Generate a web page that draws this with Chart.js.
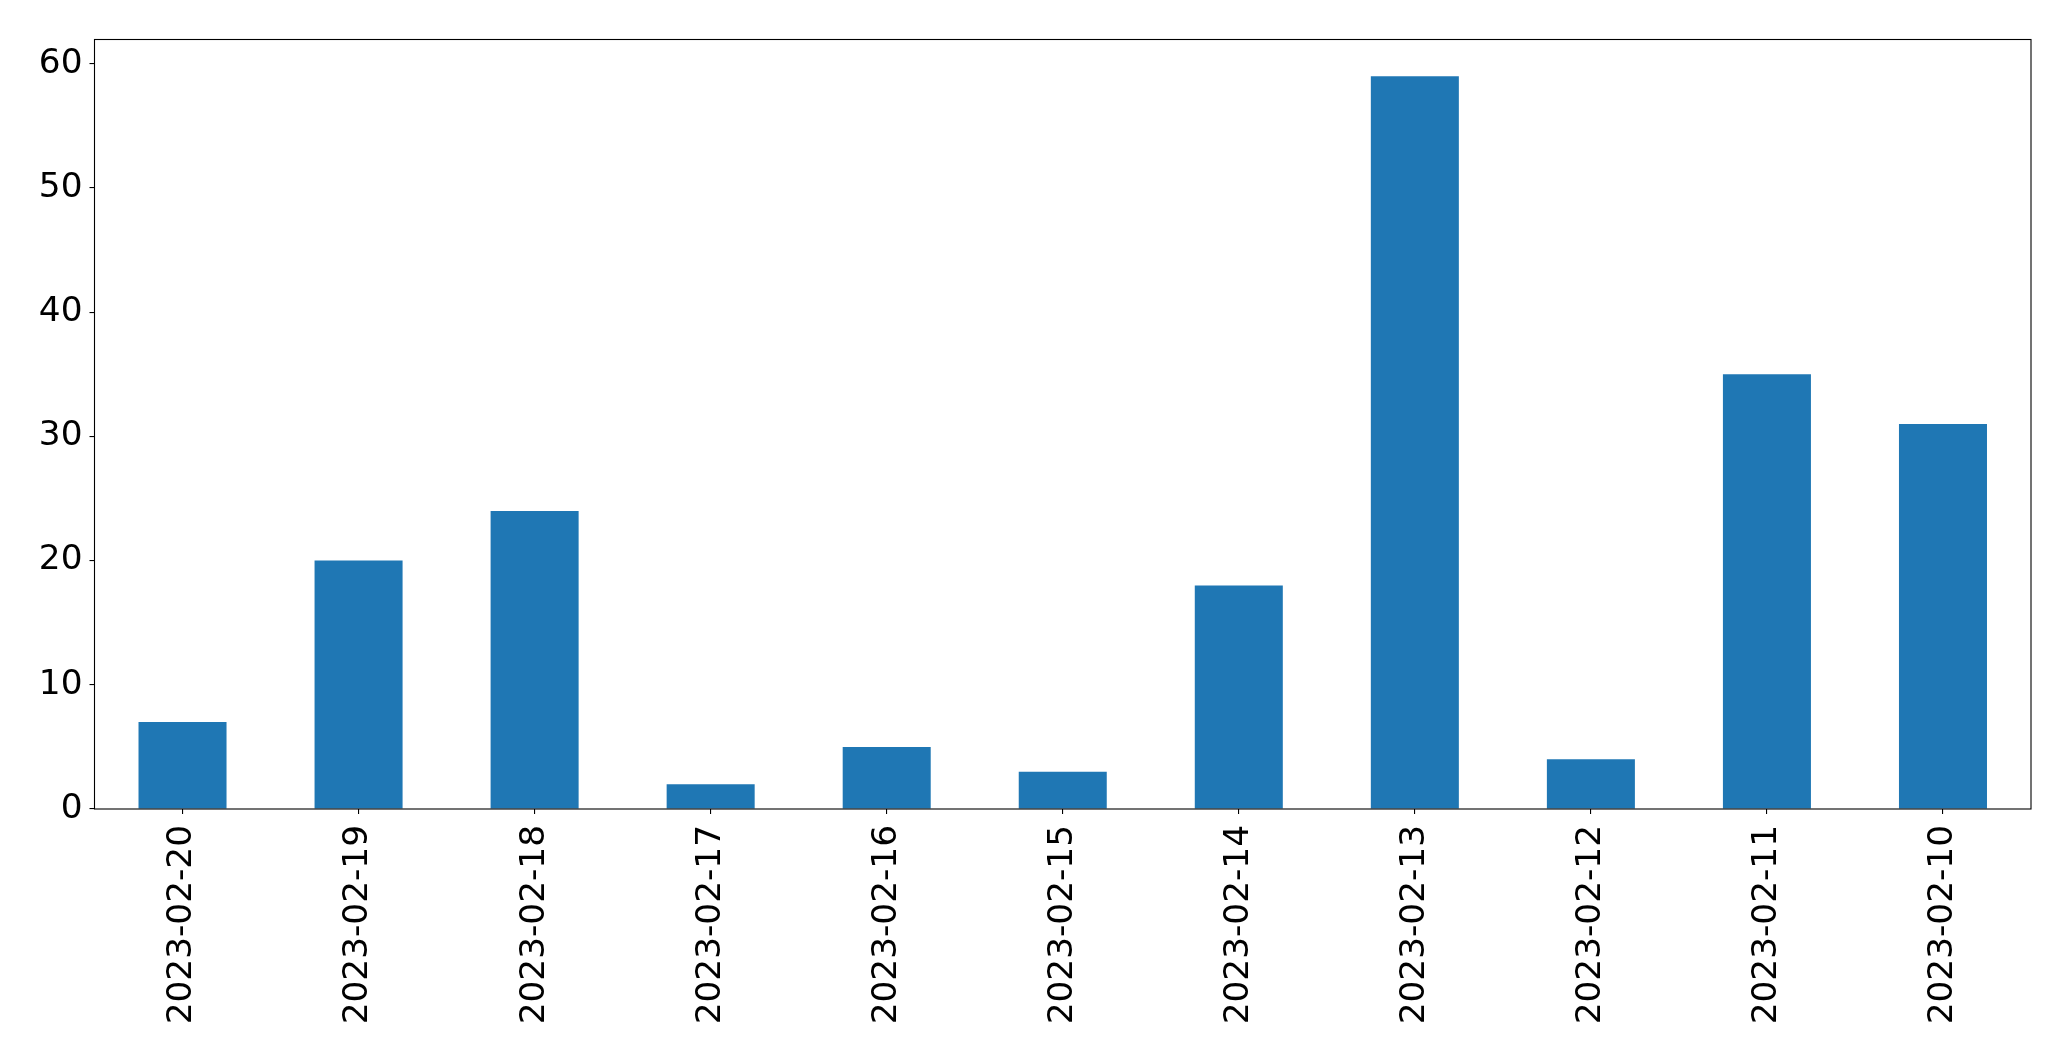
<!DOCTYPE html>
<html>
<head>
<meta charset="utf-8">
<script src="https://cdn.jsdelivr.net/npm/chart.js@4/dist/chart.umd.min.js"></script>
<style>
  html, body { margin: 0; padding: 0; background: #ffffff; }
  #wrap { width: 2071px; height: 1061px; }
</style>
</head>
<body>
<div id="wrap"><canvas id="chart" width="2071" height="1061"></canvas></div>
<script>
// category labels (as they appear left to right) and bar heights
const dates = [
  '2023-02-20', '2023-02-19', '2023-02-18', '2023-02-17', '2023-02-16', '2023-02-15',
  '2023-02-14', '2023-02-13', '2023-02-12', '2023-02-11', '2023-02-10',
];
const counts = [7, 20, 24, 2, 5, 3, 18, 59, 4, 35, 31];
const yTicks = [0, 10, 20, 30, 40, 50, 60];

const BAR_COLOR = '#1f77b4';
const FONT = { family: "'DejaVu Sans', sans-serif", size: 34.3 };

// frame around the plot area, like the matplotlib axes spines
const framePlugin = {
  id: 'frame',
  afterDatasetsDraw(chart) {
    const { ctx, chartArea: a } = chart;
    ctx.save();
    ctx.strokeStyle = '#000000';
    ctx.lineWidth = 1.1;
    ctx.strokeRect(a.left, a.top, a.right - a.left, a.bottom - a.top);
    ctx.restore();
  },
};

new Chart(document.getElementById('chart'), {
  type: 'bar',
  data: {
    labels: dates,
    datasets: [{
      data: counts,
      backgroundColor: BAR_COLOR,
      borderWidth: 0,
      categoryPercentage: 0.5,
      barPercentage: 1.0,
    }],
  },
  options: {
    responsive: false,
    animation: false,
    devicePixelRatio: 1,
    layout: { padding: { top: 39.5, right: 40, left: 0, bottom: 0 } },
    plugins: { legend: { display: false }, tooltip: { enabled: false } },
    scales: {
      x: {
        offset: true,
        border: { display: false },
        grid: {
          offset: false,
          drawOnChartArea: false,
          drawTicks: true,
          tickLength: 5,
          color: '#000000',
          lineWidth: 1.1,
        },
        ticks: {
          color: '#000000',
          font: FONT,
          minRotation: 90,
          maxRotation: 90,
          padding: 11,
          autoSkip: false,
        },
        afterFit(scale) { scale.height = 252; },
      },
      y: {
        min: 0,
        max: 61.95,
        border: { display: false },
        grid: {
          drawOnChartArea: false,
          drawTicks: true,
          tickLength: 5,
          color: '#000000',
          lineWidth: 1.1,
        },
        ticks: {
          color: '#000000',
          font: FONT,
          padding: 7,
          stepSize: 10,
        },
        afterBuildTicks(scale) {
          scale.ticks = yTicks.map((v) => ({ value: v }));
        },
        afterFit(scale) { scale.width = 94.5; },
      },
    },
  },
  plugins: [framePlugin],
});
</script>
</body>
</html>
